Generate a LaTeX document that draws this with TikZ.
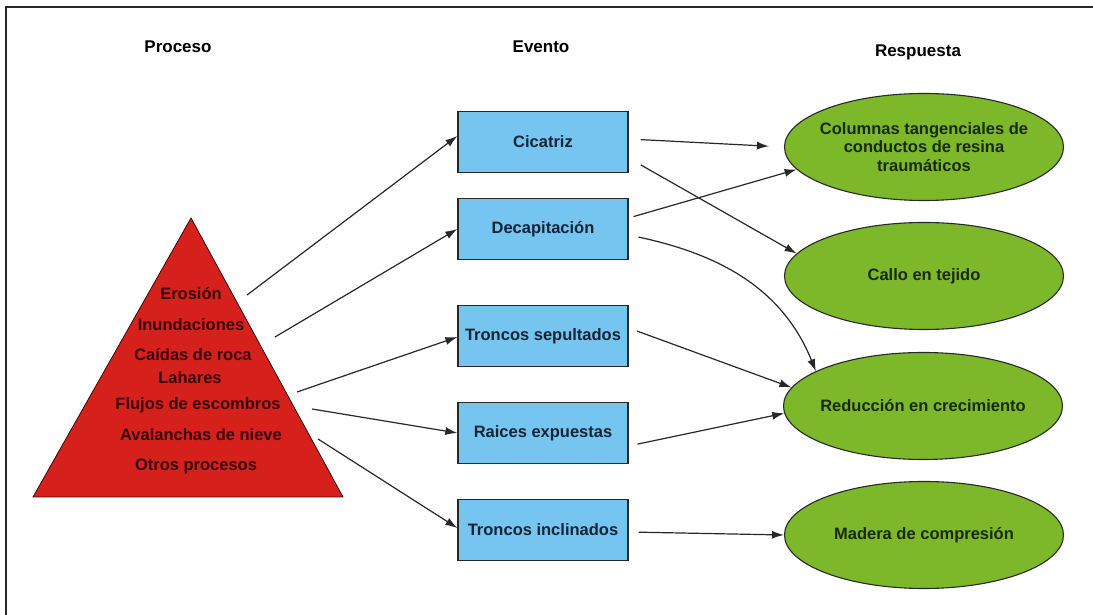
\documentclass[tikz,border=0pt]{standalone}
\usepackage{fontspec}
\setmainfont{Liberation Sans}
\usepackage{tikz}
\usetikzlibrary{arrows.meta}
\usetikzlibrary{shapes.geometric}
\usetikzlibrary{positioning}

\definecolor{rojoproc}{RGB}{214,32,28}
\definecolor{azulev}{RGB}{118,196,240}
\definecolor{verderesp}{RGB}{124,184,42}
\definecolor{txtrojo}{RGB}{55,8,8}
\definecolor{txtazul}{RGB}{22,36,54}
\definecolor{txtverde}{RGB}{24,42,10}
\definecolor{linea}{RGB}{40,40,40}

\begin{document}
\begin{tikzpicture}[x=1pt,y=1pt,
  titulo/.style={font=\fontsize{17}{20}\selectfont\bfseries,text=black},
  proc/.style={font=\fontsize{16.5}{18}\selectfont\bfseries,text=txtrojo,inner sep=0pt},
  evento/.style={rectangle,draw=linea,line width=1.3pt,fill=azulev,minimum width=170pt,minimum height=61pt,
    font=\fontsize{16.5}{18}\selectfont\bfseries,text=txtazul},
  respuesta/.style={ellipse,draw=linea,line width=1.1pt,fill=verderesp,minimum width=279pt,minimum height=107pt,
    inner xsep=-30pt,inner ysep=0pt,
    align=center,font=\fontsize{16.5}{18.5}\selectfont\bfseries,text=txtverde},
  flecha/.style={draw=linea,line width=1.2pt,-{Latex[length=12pt,width=8pt]}}]
\useasboundingbox (0,0) rectangle (1093,615);
\fill[white] (0,0) rectangle (1093,615);

% marco
\draw[linea,line width=2pt] (6,0) -- (6,608) -- (1093,608);

% titulos
\node[titulo] (tproc) at (178,568) {Proceso};
\node[titulo] (tev) at (541,568) {Evento};
\node[titulo] (tresp) at (918,563) {Respuesta};

% piramide de procesos
\draw[fill=rojoproc,draw=txtrojo,line width=0.8pt] (191,397) -- (343,118) -- (33,118) -- cycle;
\node[proc] (p1) at (191,321) {Erosión};
\node[proc] (p2) at (191,290) {Inundaciones};
\node[proc] (p3) at (193,260) {Caídas de roca};
\node[proc] (p4) at (190,237) {Lahares};
\node[proc] (p5) at (198,210) {Flujos de escombros};
\node[proc] (p6) at (201,180) {Avalanchas de nieve};
\node[proc] (p7) at (196,149) {Otros procesos};

\coordinate (s1) at (247,320);
\coordinate (s2) at (275,278);
\coordinate (s3) at (297,223);
\coordinate (s4) at (312,206);
\coordinate (s5) at (318,176);

% eventos
\node[evento] (cic) at (543,473) {Cicatriz};
\node[evento] (dec) at (543,386) {Decapitación};
\node[evento] (sep) at (543,279) {Troncos sepultados};
\node[evento] (rai) at (543,182) {Raices expuestas};
\node[evento] (inc) at (543,85) {Troncos inclinados};

% respuestas
\node[respuesta] (col) at (924,468) {Columnas tangenciales de\\conductos de resina\\traumáticos};
\node[respuesta] (cal) at (924,339) {Callo en tejido};
\node[respuesta] (red) at (923,209) {Reducción en crecimiento};
\node[respuesta] (mad) at (924,80) {Madera de compresión};

% flechas proceso -> evento
\draw[flecha] (s1) -- ([yshift=6pt]cic.west);
\draw[flecha] (s2) -- (dec.west);
\draw[flecha] (s3) -- ([yshift=-1pt]sep.west);
\draw[flecha] (s4) -- (rai.west);
\draw[flecha] (s5) -- ([yshift=2pt]inc.west);

% flechas evento -> respuesta
\draw[flecha,shorten <=12pt,shorten >=15pt] ([yshift=3pt]cic.east) -- (col.west);
\draw[flecha,shorten <=14pt] ([yshift=-16pt]cic.east) -- (cal.170);
\draw[flecha,shorten <=5pt] ([yshift=11pt]dec.east) -- (col.190);
\draw[flecha,shorten <=10pt] ([yshift=-6pt]dec.east) to[out=-12,in=112] (red.162);
\draw[flecha,shorten <=9pt] ([yshift=8pt]sep.east) -- (red.172);
\draw[flecha,shorten <=9pt] ([yshift=-13pt]rai.east) -- (red.183);
\draw[flecha,shorten <=10pt] ([yshift=-2pt]inc.east) -- (mad.west);

\end{tikzpicture}
\end{document}
